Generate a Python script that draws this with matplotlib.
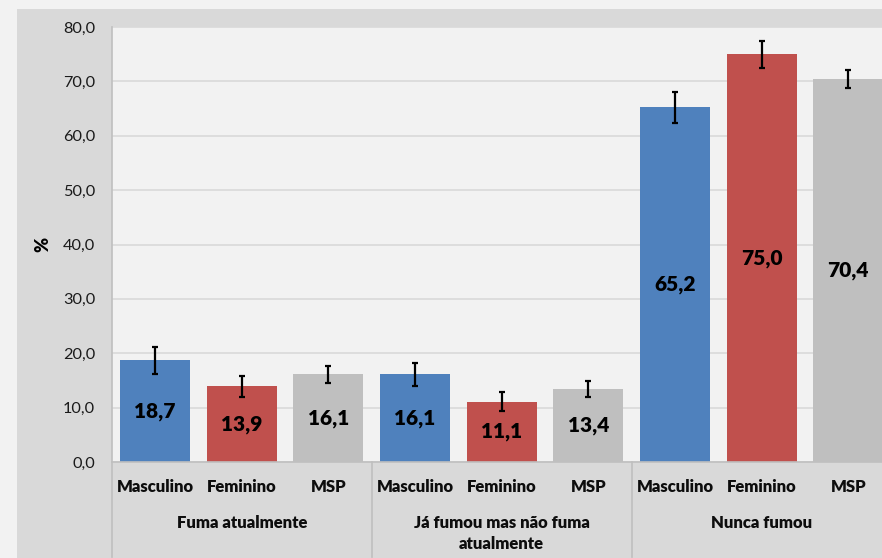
import matplotlib.pyplot as plt
from matplotlib.patches import Rectangle

plt.rcParams['font.family'] = ['Lato', 'DejaVu Sans']

# dados
grupos = ['Fuma atualmente', 'Já fumou mas não fuma\natualmente', 'Nunca fumou']
sexos = ['Masculino', 'Feminino', 'MSP']
valores_masc = [18.7, 16.1, 65.2]
valores_fem = [13.9, 11.1, 75.0]
valores_msp = [16.1, 13.4, 70.4]
erro_masc = [2.5, 2.1, 2.85]
erro_fem = [1.9, 1.8, 2.45]
erro_msp = [1.5, 1.45, 1.7]
cores = ['#4f81bd', '#c0504d', '#bfbfbf']

W, H = 882, 558
fig = plt.figure(figsize=(W / 100, H / 100), dpi=100, facecolor='#f2f2f2')
# fundo da área do gráfico
fig.patches.append(Rectangle((17 / W, 0), 1, (H - 9) / H, transform=fig.transFigure,
                             facecolor='#d9d9d9', edgecolor='none', zorder=-10))

ax = fig.add_axes([111.7 / W, 96 / H, 780 / W, 435 / H])
ax.set_facecolor('#f2f2f2')

series = [(valores_masc, erro_masc), (valores_fem, erro_fem), (valores_msp, erro_msp)]
for j, (vals, errs) in enumerate(series):
    xs = [i * 3 + j for i in range(len(grupos))]
    ax.bar(xs, vals, width=0.81, color=cores[j], zorder=2)
    ax.errorbar(xs, vals, yerr=errs, fmt='none', ecolor='black', elinewidth=1.6,
                capsize=2, capthick=1.6, zorder=3)
    for x, v in zip(xs, vals):
        ax.text(x, v / 2, f'{v:.1f}'.replace('.', ','), ha='center', va='center',
                fontsize=15, fontweight='heavy', color='black', zorder=4)

ax.set_xlim(-0.5, 8.5)
ax.set_ylim(0, 80)
ax.set_yticks(range(0, 81, 10))
ax.set_yticklabels([f'{t:.1f}'.replace('.', ',') for t in range(0, 81, 10)],
                   fontsize=11.7, color='#1a1a1a')
ax.tick_params(axis='y', length=0, pad=12)
ax.set_xticks([])
ax.grid(axis='y', color='#d9d9d9', linewidth=1.2, zorder=0)
ax.set_axisbelow(True)
for s in ['top', 'right']:
    ax.spines[s].set_visible(False)
for s in ['left', 'bottom']:
    ax.spines[s].set_color('#bfbfbf')
    ax.spines[s].set_linewidth(1.2)

# rótulos do eixo x em dois níveis
trans = ax.get_xaxis_transform()
for i, g in enumerate(grupos):
    for j, s in enumerate(sexos):
        ax.annotate(s, xy=(i * 3 + j, 0), xycoords=trans, xytext=(0, -18),
                    textcoords='offset points', ha='center', va='center',
                    fontsize=12, fontweight='heavy', color='#0d0d0d')
    off = -51.5 if '\n' in g else -43.7
    ax.annotate(g, xy=(i * 3 + 1, 0), xycoords=trans, xytext=(0, off),
                textcoords='offset points', ha='center', va='center',
                fontsize=12, fontweight='heavy', color='#0d0d0d', linespacing=1.35)
for xb in [-0.5, 2.5, 5.5, 8.5]:
    ax.plot([xb, xb], [0, -95 / 435], transform=trans, color='#bfbfbf',
            linewidth=1.2, clip_on=False)

fig.text(43 / W, 1 - 244 / H, '%', rotation=90, ha='center', va='center',
         fontsize=13, fontweight='heavy')

fig.savefig('out.png', dpi=100, facecolor=fig.get_facecolor())
